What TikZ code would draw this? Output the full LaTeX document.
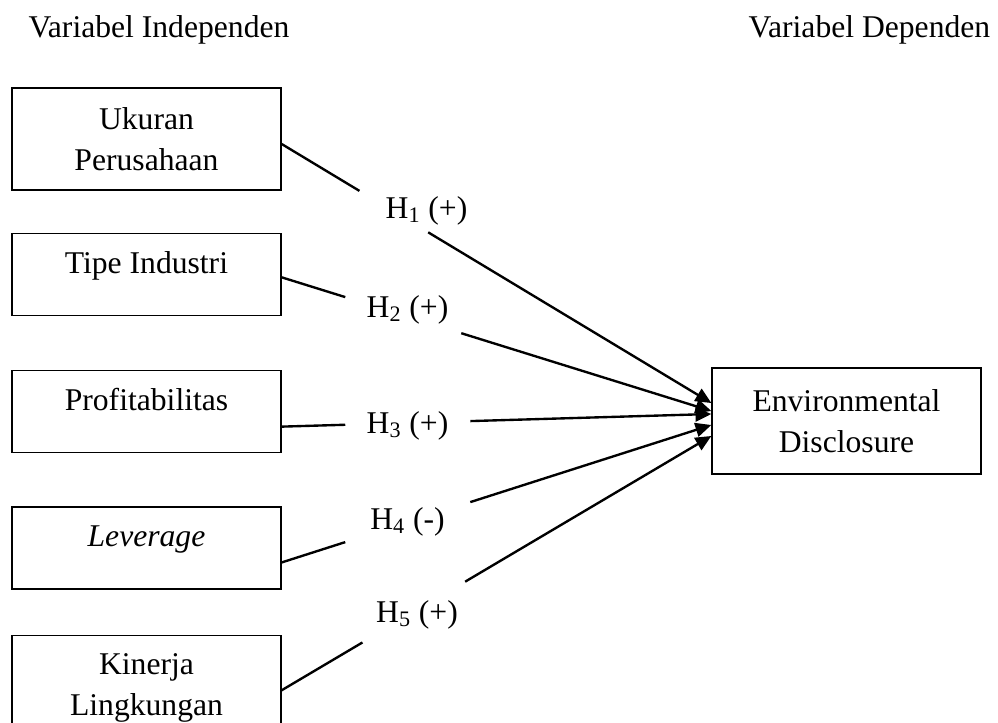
\documentclass[tikz,border=0pt]{standalone}
\usepackage{fontspec}
\setmainfont{Liberation Serif}
\usetikzlibrary{positioning,calc,arrows.meta}

\begin{document}
\begin{tikzpicture}[
    font=\fontsize{18}{23.3}\selectfont,
    varbox/.style={draw, line width=0.75pt, minimum width=5.38cm, align=center},
    onebox/.style={varbox, minimum height=1.64cm, inner ysep=0pt, text height=0.8cm, text depth=0.84cm},
    twobox/.style={varbox, minimum height=2.04cm},
    line/.style={line width=1.35pt},
    arrow/.style={line width=1.35pt, -{Triangle[length=9pt,width=8pt]}},
    hyp/.style={anchor=base, inner sep=0pt}
]

\useasboundingbox (0,0) rectangle (19.96,-14.46);

% Column titles
\node[anchor=base] (indep) at (3.18,-0.76) {Variabel Independen};
\node[anchor=base] (dep) at (17.39,-0.76) {Variabel Dependen};

% Independent variables - left column
\node[twobox] (ukuran) at (2.93,-2.78) {Ukuran\\Perusahaan};
\node[onebox, below=0.84cm of ukuran] (tipe) {Tipe Industri};
\node[onebox, below=1.08cm of tipe] (profit) {Profitabilitas};
\node[onebox, below=1.06cm of profit] (lev) {\textit{Leverage}};
\node[twobox, minimum height=2.1cm, below=0.9cm of lev] (kinerja) {Kinerja\\Lingkungan};

% Dependent variable - right side
\node[varbox, minimum height=2.12cm] (env) at (16.93,-8.42) {Environmental\\Disclosure};

% Hypothesis labels
\node[hyp] (h1) at (8.53,-4.36) {H\textsubscript{1} (+)};
\node[hyp] (h2) at (8.15,-6.34) {H\textsubscript{2} (+)};
\node[hyp] (h3) at (8.15,-8.66) {H\textsubscript{3} (+)};
\node[hyp] (h4) at (8.15,-10.58) {H\textsubscript{4} (-)};
\node[hyp] (h5) at (8.34,-12.44) {H\textsubscript{5} (+)};

% Start and end points of the hypothesis arrows
\coordinate (s1) at ([yshift=-0.1cm]ukuran.east);
\coordinate (s2) at ([yshift=-0.06cm]tipe.east);
\coordinate (s3) at ([yshift=-0.3cm]profit.east);
\coordinate (s4) at ([yshift=-0.29cm]lev.east);
\coordinate (s5) at ([yshift=-0.05cm]kinerja.east);
\coordinate (t1) at ([yshift=0.36cm]env.west);
\coordinate (t2) at ([yshift=0.2cm]env.west);
\coordinate (t3) at ([yshift=0.14cm]env.west);
\coordinate (t4) at ([yshift=-0.08cm]env.west);
\coordinate (t5) at ([yshift=-0.3cm]env.west);

% Arrows, broken where the labels sit
\draw[line] (s1) -- ($(s1)!0.181!(t1)$);
\draw[arrow] ($(s1)!0.341!(t1)$) -- (t1);
\draw[line] (s2) -- ($(s2)!0.148!(t2)$);
\draw[arrow] ($(s2)!0.418!(t2)$) -- (t2);
\draw[line] (s3) -- ($(s3)!0.148!(t3)$);
\draw[arrow] ($(s3)!0.439!(t3)$) -- (t3);
\draw[line] (s4) -- ($(s4)!0.148!(t4)$);
\draw[arrow] ($(s4)!0.439!(t4)$) -- (t4);
\draw[line] (s5) -- ($(s5)!0.188!(t5)$);
\draw[arrow] ($(s5)!0.427!(t5)$) -- (t5);

\end{tikzpicture}
\end{document}
